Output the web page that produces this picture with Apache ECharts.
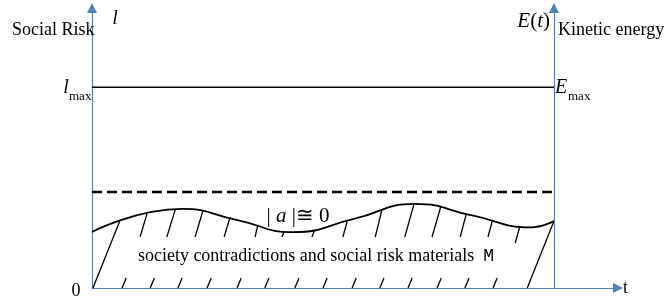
<!DOCTYPE html>
<html>
<head>
<meta charset="utf-8">
<script src="https://cdn.jsdelivr.net/npm/echarts@6/dist/echarts.min.js"></script>
<style>html,body{margin:0;padding:0;background:#fff;}#c{width:667px;height:298px;}</style>
</head>
<body>
<div id="c"></div>
<script>
// ---- data (t units: right axis at t=100; l units: l_max = 100) ----
const tMax = 113.85;
const lTop = 139.5;
const rightAxisT = 100;
const lMaxLevel = 100;
const thresholdLevel = 47.8;
const riskCurve = [
  [0, 27.9], [19.5, 39.4], [31.5, 33.8], [43.5, 27.8], [56.7, 34.4],
  [69.9, 41.9], [82.5, 36.0], [95.0, 30.2], [100, 33.4]
];
const upperHatches = [
  [10.4, 25.4, 11.9, 36.9], [16.2, 25.4, 18.0, 38.9], [22.3, 25.4, 24.0, 38.4],
  [28.6, 25.4, 29.9, 35.4], [35.3, 25.4, 35.9, 31.4], [41.1, 25.4, 41.6, 28.2],
  [47.6, 25.4, 48.1, 28.4], [54.3, 25.4, 55.2, 32.9], [61.3, 25.4, 62.8, 39.4],
  [67.7, 25.4, 69.7, 41.9], [73.6, 25.4, 75.5, 40.6], [79.7, 25.4, 81.0, 36.8],
  [85.7, 25.4, 86.6, 33.0], [91.6, 22.4, 92.6, 30.6]
];
const lowerHatches = [
  [6.5, 0, 7.4, 5.0], [12.6, 0, 13.5, 5.0], [18.6, 0, 19.5, 5.0], [24.9, 0, 25.8, 5.0],
  [31.4, 0, 32.3, 5.0], [37.4, 0, 38.3, 5.0], [43.9, 0, 44.8, 5.0], [50.0, 0, 50.9, 5.0],
  [56.3, 0, 57.2, 5.0], [62.3, 0, 63.2, 5.0], [68.4, 0, 69.3, 5.0], [74.7, 0, 75.6, 5.0],
  [80.7, 0, 81.6, 5.0], [86.8, 0, 87.7, 5.0]
];
const edgeLines = [
  [0.2, 0, 6.0, 33.3], [94.2, 0, 100, 33.4]
];

const AX = '#4f81bd';
const SERIF = '"Liberation Serif","Times New Roman",serif';

function segRender(params, api) {
  const p1 = api.coord([api.value(0), api.value(1)]);
  const p2 = api.coord([api.value(2), api.value(3)]);
  return { type: 'line', shape: { x1: p1[0], y1: p1[1], x2: p2[0], y2: p2[1] },
           style: { stroke: '#000', lineWidth: 1.3 } };
}
function txt(text, x, y, size, opts) {
  opts = opts || {};
  return { type: 'text', x: x, y: y, z: 100, style: Object.assign({
    text: text, fill: '#000', font: (opts.italic ? 'italic ' : '') + size + 'px ' + SERIF,
    align: opts.align || 'left', verticalAlign: 'middle' }, opts.extra || {}) };
}

const chart = echarts.init(document.getElementById('c'), null, { renderer: 'canvas' });
chart.setOption({
  animation: false,
  grid: { left: 92, top: 8, right: 49, bottom: 10 },
  xAxis: {
    type: 'value', min: 0, max: tMax,
    axisLine: { show: true, onZero: false, symbol: ['none', 'triangle'], symbolSize: [10, 10],
                lineStyle: { color: AX, width: 1.2 } },
    axisTick: { show: false }, axisLabel: { show: false }, splitLine: { show: false }
  },
  yAxis: {
    type: 'value', min: 0, max: lTop,
    axisLine: { show: true, onZero: false, symbol: ['none', 'triangle'], symbolSize: [10, 10],
                lineStyle: { color: AX, width: 1.2 } },
    axisTick: { show: false }, axisLabel: { show: false }, splitLine: { show: false }
  },
  series: [
    {
      type: 'line', data: [[0, lMaxLevel], [rightAxisT, lMaxLevel]], symbol: 'none',
      lineStyle: { color: '#000', width: 1.5 },
      markLine: {
        silent: true, symbol: ['none', 'triangle'], symbolSize: [10, 10],
        label: { show: false },
        lineStyle: { color: AX, width: 1.2, type: 'solid' },
        data: [[{ coord: [rightAxisT, 0] }, { coord: [rightAxisT, lTop] }]]
      }
    },
    {
      type: 'line', data: [[0, thresholdLevel], [rightAxisT, thresholdLevel]], symbol: 'none',
      lineStyle: { color: '#000', width: 2.5, type: [10, 5] }
    },
    {
      type: 'line', data: riskCurve, symbol: 'none', smooth: 0.5,
      lineStyle: { color: '#000', width: 1.8 }
    },
    { type: 'custom', renderItem: segRender, data: upperHatches, encode: { x: [0, 2], y: [1, 3] } },
    { type: 'custom', renderItem: segRender, data: lowerHatches, encode: { x: [0, 2], y: [1, 3] } },
    { type: 'custom', renderItem: segRender, data: edgeLines, encode: { x: [0, 2], y: [1, 3] } }
  ],
  graphic: [
    txt('Social Risk', 12, 30, 18),
    txt('l', 115, 19, 20, { italic: true, align: 'center' }),
    txt('l', 66, 88, 20, { italic: true, align: 'center' }),
    txt('max', 69, 97, 13),
    { type: 'text', x: 550, y: 21, z: 100, style: {
        text: '{i|E}({i|t})', fill: '#000', font: '21px ' + SERIF,
        align: 'right', verticalAlign: 'middle',
        rich: { i: { fontStyle: 'italic', fontFamily: SERIF, fontSize: 21 } } } },
    txt('Kinetic energy', 558, 30, 18),
    txt('E', 555, 88, 20, { italic: true }),
    txt('max', 568, 97, 13),
    { type: 'text', x: 298, y: 216, z: 100, style: {
        text: '| {i|a} |\u2245 0', fill: '#000', font: '21px ' + SERIF,
        align: 'center', verticalAlign: 'middle',
        rich: { i: { fontStyle: 'italic', fontFamily: SERIF, fontSize: 21 } } } },
    { type: 'text', x: 316, y: 256, z: 100, style: {
        text: 'society contradictions and social risk materials  {m|M}', fill: '#000',
        font: '18px ' + SERIF, align: 'center', verticalAlign: 'middle',
        rich: { m: { fontFamily: '"Liberation Mono",monospace', fontSize: 18 } } } },
    txt('0', 76, 291, 18, { align: 'center' }),
    txt('t', 623, 288, 18)
  ]
});
</script>
</body>
</html>
